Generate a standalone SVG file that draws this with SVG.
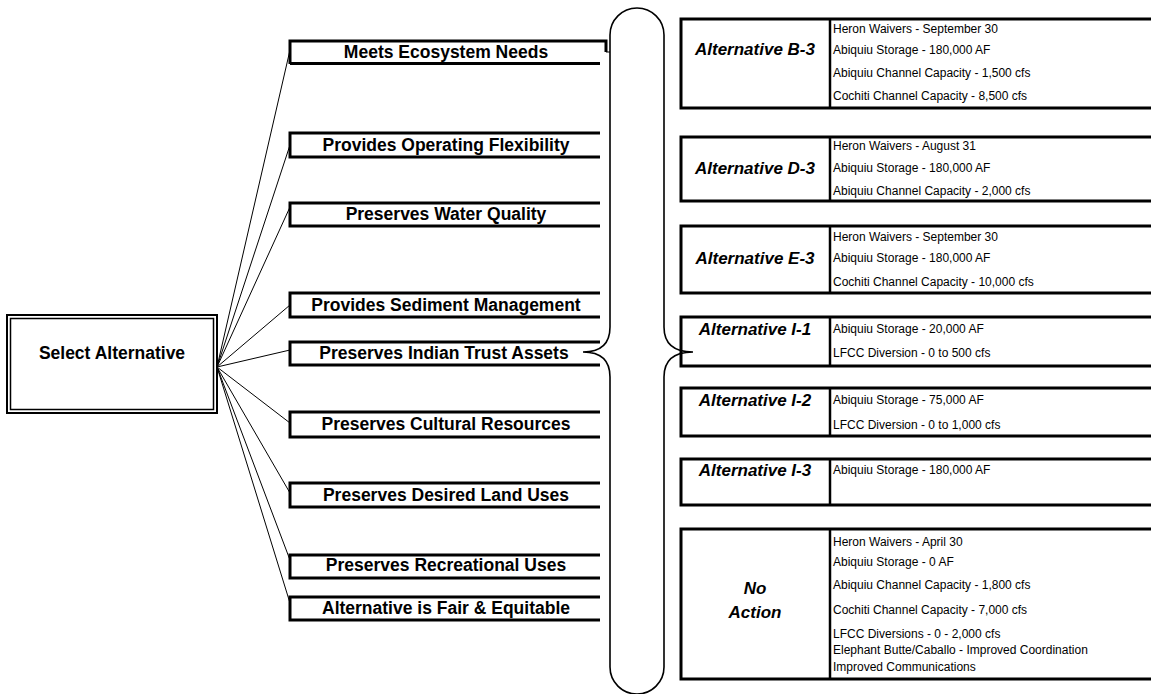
<svg xmlns="http://www.w3.org/2000/svg" width="1151" height="694" viewBox="0 0 1151 694">
<style>
.crit{font-family:"Liberation Sans",Arial,sans-serif;font-weight:bold;font-size:17.5px;text-anchor:middle;fill:#000}
.lab{font-family:"Liberation Sans",Arial,sans-serif;font-weight:bold;font-style:italic;font-size:17px;text-anchor:middle;fill:#000}
.det{font-family:"Liberation Sans",Arial,sans-serif;font-size:12px;fill:#000}
.thick{fill:none;stroke:#000;stroke-width:3}
.div{fill:none;stroke:#000;stroke-width:2.5}
.thin{fill:none;stroke:#000;stroke-width:1}
.brace{fill:none;stroke:#000;stroke-width:1.6}
</style>
<rect width="1151" height="694" fill="#fff"/>

<g id="connectors">
<line class="thin" x1="217" y1="367" x2="290" y2="50"/>
<line class="thin" x1="217" y1="367" x2="290" y2="145"/>
<line class="thin" x1="217" y1="367" x2="290" y2="207"/>
<line class="thin" x1="217" y1="367" x2="290" y2="305"/>
<line class="thin" x1="217" y1="367" x2="290" y2="350"/>
<line class="thin" x1="217" y1="367" x2="290" y2="423"/>
<line class="thin" x1="217" y1="367" x2="290" y2="493"/>
<line class="thin" x1="217" y1="367" x2="290" y2="560"/>
<line class="thin" x1="217" y1="367" x2="290" y2="603"/>
</g>

<g id="select-alternative">
<rect x="7" y="315" width="210" height="98" fill="#fff" stroke="#000" stroke-width="2"/>
<rect x="10.5" y="318.5" width="203" height="91" fill="none" stroke="#000" stroke-width="1.5"/>
<text class="crit" x="112" y="359">Select Alternative</text>
</g>

<g id="crit-ecosystem">
<path class="thick" d="M290,64 L290,41 L606,41 L606,52"/>
<line class="thin" x1="606" y1="52" x2="610" y2="52"/>
<line class="thick" x1="290" y1="63.5" x2="600" y2="63.5"/>
<text class="crit" x="446" y="58">Meets Ecosystem Needs</text>
</g>
<g id="crit-flexibility">
<path class="thick" d="M600,133 L290,133 L290,157 L600,157"/>
<text class="crit" x="446" y="151">Provides Operating Flexibility</text>
</g>
<g id="crit-water">
<path class="thick" d="M600,203 L290,203 L290,226 L600,226"/>
<text class="crit" x="446" y="220">Preserves Water Quality</text>
</g>
<g id="crit-sediment">
<path class="thick" d="M600,293 L290,293 L290,317 L600,317"/>
<text class="crit" x="446" y="311">Provides Sediment Management</text>
</g>
<g id="crit-indian">
<path class="thick" d="M600,342 L290,342 L290,365 L600,365"/>
<text class="crit" x="444" y="359">Preserves Indian Trust Assets</text>
</g>
<g id="crit-cultural">
<path class="thick" d="M600,412 L290,412 L290,437 L600,437"/>
<text class="crit" x="446" y="430">Preserves Cultural Resources</text>
</g>
<g id="crit-land">
<path class="thick" d="M600,483 L290,483 L290,507 L600,507"/>
<text class="crit" x="446" y="501">Preserves Desired Land Uses</text>
</g>
<g id="crit-recreation">
<path class="thick" d="M600,555 L290,555 L290,578 L600,578"/>
<text class="crit" x="446" y="571">Preserves Recreational Uses</text>
</g>
<g id="crit-fair">
<path class="thick" d="M600,597 L290,597 L290,620 L600,620"/>
<text class="crit" x="446" y="614">Alternative is Fair &amp; Equitable</text>
</g>

<g id="brace">
<path class="brace" d="M610,35 A27,27 0 0 1 664,35 L664,327 Q664,352 693,352 Q664,352 664,377 L664,667 A27,27 0 0 1 610,667 L610,377 Q610,352 583,352 Q610,352 610,327 Z"/>
</g>

<g id="alt-b3">
<path class="thick" d="M1152,19 L681,19 L681,108 L1152,108"/>
<line class="div" x1="830" y1="19" x2="830" y2="108"/>
<text class="lab" x="755" y="55">Alternative B-3</text>
<text class="det" x="833" y="33">Heron Waivers - September 30</text>
<text class="det" x="833" y="54">Abiquiu Storage - 180,000 AF</text>
<text class="det" x="833" y="77">Abiquiu Channel Capacity - 1,500 cfs</text>
<text class="det" x="833" y="100">Cochiti Channel Capacity - 8,500 cfs</text>
</g>
<g id="alt-d3">
<path class="thick" d="M1152,137 L681,137 L681,201 L1152,201"/>
<line class="div" x1="830" y1="137" x2="830" y2="201"/>
<text class="lab" x="755" y="174">Alternative D-3</text>
<text class="det" x="833" y="150">Heron Waivers - August 31</text>
<text class="det" x="833" y="172">Abiquiu Storage - 180,000 AF</text>
<text class="det" x="833" y="195">Abiquiu Channel Capacity - 2,000 cfs</text>
</g>
<g id="alt-e3">
<path class="thick" d="M1152,226 L681,226 L681,293 L1152,293"/>
<line class="div" x1="830" y1="226" x2="830" y2="293"/>
<text class="lab" x="755" y="264">Alternative E-3</text>
<text class="det" x="833" y="241">Heron Waivers - September 30</text>
<text class="det" x="833" y="262">Abiquiu Storage - 180,000 AF</text>
<text class="det" x="833" y="286">Cochiti Channel Capacity - 10,000 cfs</text>
</g>
<g id="alt-i1">
<path class="thick" d="M1152,317 L681,317 L681,366 L1152,366"/>
<line class="div" x1="830" y1="317" x2="830" y2="366"/>
<text class="lab" x="755" y="335">Alternative I-1</text>
<text class="det" x="833" y="333">Abiquiu Storage - 20,000 AF</text>
<text class="det" x="833" y="357">LFCC Diversion - 0 to 500 cfs</text>
</g>
<g id="alt-i2">
<path class="thick" d="M1152,388 L681,388 L681,436 L1152,436"/>
<line class="div" x1="830" y1="388" x2="830" y2="436"/>
<text class="lab" x="755" y="406">Alternative I-2</text>
<text class="det" x="833" y="404">Abiquiu Storage - 75,000 AF</text>
<text class="det" x="833" y="429">LFCC Diversion - 0 to 1,000 cfs</text>
</g>
<g id="alt-i3">
<path class="thick" d="M1152,459 L681,459 L681,505 L1152,505"/>
<line class="div" x1="830" y1="459" x2="830" y2="505"/>
<text class="lab" x="755" y="476">Alternative I-3</text>
<text class="det" x="833" y="474">Abiquiu Storage - 180,000 AF</text>
</g>
<g id="alt-noaction">
<path class="thick" d="M1152,529 L681,529 L681,679 L1152,679"/>
<line class="div" x1="830" y1="529" x2="830" y2="679"/>
<text class="lab" x="755" y="594">No</text>
<text class="lab" x="755" y="618">Action</text>
<text class="det" x="833" y="546">Heron Waivers - April 30</text>
<text class="det" x="833" y="566">Abiquiu Storage - 0 AF</text>
<text class="det" x="833" y="589">Abiquiu Channel Capacity - 1,800 cfs</text>
<text class="det" x="833" y="614">Cochiti Channel Capacity - 7,000 cfs</text>
<text class="det" x="833" y="638">LFCC Diversions - 0 - 2,000 cfs</text>
<text class="det" x="833" y="654">Elephant Butte/Caballo - Improved Coordination</text>
<text class="det" x="833" y="671">Improved Communications</text>
</g>
</svg>
